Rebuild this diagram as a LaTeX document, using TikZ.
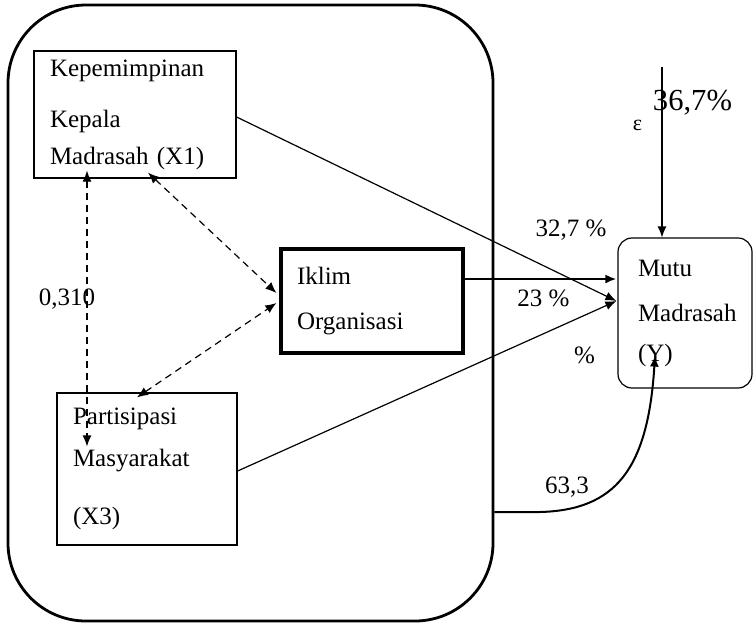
\documentclass[tikz,border=0pt]{standalone}
\usepackage{fontspec}
\setmainfont{Liberation Serif}
\usetikzlibrary{arrows.meta}

\begin{document}
\begin{tikzpicture}[
  x=0.5pt, y=-0.5pt,
  font=\fontsize{12.5}{15}\selectfont,
  >={Latex[length=5.5pt,width=4.5pt]},
  b/.style={draw, line width=0.6pt, align=left, inner xsep=8pt, inner ysep=0pt},
  lbl/.style={inner sep=0pt, anchor=base},
  dsh/.style={<->, dashed, dash pattern=on 3.5pt off 2.5pt, line width=0.6pt},
  ln/.style={->, line width=0.6pt}
]
  \useasboundingbox (0,0) rectangle (754,628);
  \node[draw, line width=1.4pt, rounded corners=39pt, minimum width=242.5pt, minimum height=308pt] (frame) at (250.5,313) {};
  \node[b, text width=85pt, minimum height=63.5pt] (x1) at (135,114.5) {Kepemimpinan\\[10.5pt]Kepala\\[3.5pt]Madrasah (X1)};
  \node[b, line width=1.6pt, text width=75pt, minimum height=52pt] (iklim) at (372,301) {Iklim\\[7.5pt]Organisasi};
  \node[b, text width=74pt, minimum height=76pt] (x3) at (147,469) {Partisipasi\\[6pt]Masyarakat\\[14pt](X3)};
  \node[b, rounded corners=7pt, inner xsep=10pt, text width=47pt, minimum height=75pt] (mutu) at (685,313) {Mutu\\[7.5pt]Madrasah\\[5pt](Y)};
  \coordinate (eps) at (662,67);

  % labels
  \node[lbl] (p310) at (67,305) {0,310};
  \node[lbl] (p327) at (571,236) {32,7 \%};
  \node[lbl] (p23) at (543.5,306) {23 \%};
  \node[lbl] (pct) at (584.5,363) {\%};
  \node[lbl] (p633) at (567,493) {63,3};
  \node[lbl, font=\fontsize{15.3}{18}\selectfont] (p367) at (692.5,110) {36,7\%};
  \node[lbl, font=\fontsize{11}{13}\selectfont] (e) at (637.5,130) {ε};

  % correlations
  \draw[dsh] ([xshift=-24pt,yshift=4pt]x1.south) -- ([xshift=-30pt,yshift=-27pt]x3.north);
  \draw[dsh] ([xshift=6.5pt,yshift=3pt]x1.south) -- ([xshift=-1.5pt,yshift=4pt]iklim.west);
  \draw[dsh] ([xshift=-5pt,yshift=-2.5pt]x3.north) -- ([xshift=-1.5pt,yshift=-1pt]iklim.west);

  % paths
  \draw[ln] ([yshift=-1.25pt]x1.east) -- ([xshift=-0.5pt,yshift=6pt]mutu.west);
  \draw[->, line width=1pt] ([xshift=-1.5pt,yshift=11pt]iklim.east) -- ([xshift=-0.5pt,yshift=17pt]mutu.west);
  \draw[ln] ([yshift=-1pt]x3.east) -- ([xshift=-0.5pt,yshift=6pt]mutu.west);
  \draw[ln] (eps) -- ([xshift=-11.5pt]mutu.north);
  \draw[->, line width=1pt] ([yshift=-99.5pt]frame.east) -- (540,512) .. controls (615,510) and (648,470) .. ([xshift=-15pt,yshift=16.5pt]mutu.south);
\end{tikzpicture}
\end{document}
